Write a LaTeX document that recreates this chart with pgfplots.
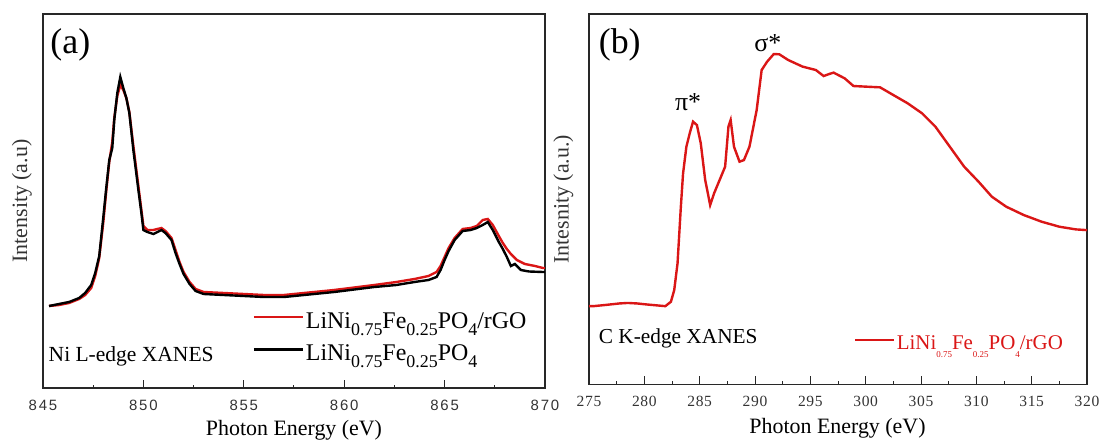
\documentclass[border=0pt]{standalone}
\usepackage{pgfplots}
\pgfplotsset{compat=1.18}
\usepackage{fontspec}
\setmainfont{Liberation Serif}
\newfontfamily\ticksans[LetterSpace=12]{Liberation Sans}
\newfontfamily\tickserif[LetterSpace=4]{Liberation Serif}
\definecolor{cred}{RGB}{218,22,22}
\definecolor{axgray}{RGB}{40,40,40}
\newcommand{\lsub}[1]{\raisebox{-3.6bp}{\fontsize{9}{9}\selectfont #1}}
\newcommand{\tsub}[1]{\raisebox{-4.2bp}{\fontsize{4.5}{5}\selectfont #1}}
\begin{document}
\begin{tikzpicture}
\useasboundingbox (0,0) rectangle (550bp,221.5bp);
\pgfplotsset{
  xanes/.style={
    scale only axis, anchor=south west,
    ytick=\empty, xtick pos=bottom, tick align=inside,
    minor x tick num=1,
    major tick length=4bp, minor tick length=1.6bp,
    axis line style={line width=0.6bp, axgray},
    every tick/.style={axgray, line width=0.5bp},
    /pgf/number format/assume math mode=true,
    xlabel style={font=\fontsize{11}{13}\selectfont, anchor=center},
    ylabel style={font=\fontsize{11}{13}\selectfont, anchor=center, text=black!80},
    clip=true,
  }
}
% ---------------- panel (a)
\begin{axis}[xanes,
  at={(21.5bp,27.5bp)}, width=251bp, height=187bp,
  xmin=845, xmax=870, ymin=0, ymax=374,
  xtick={845,850,...,870},
  xticklabel style={font=\ticksans\fontsize{7.5}{8}\selectfont, anchor=center, yshift=-8.5bp, text=black!80},
  xlabel={Photon Energy (eV)},
  xlabel style={at={(axis description cs:0.5,-0.112)}},
  ylabel={Intensity (a.u)},
  ylabel style={at={(axis description cs:-0.042,0.5)}},
  legend style={draw=none, fill=none, inner sep=0pt, at={(axis description cs:0.417,0.130)}, anchor=west,
    font=\fontsize{12}{12}\selectfont, row sep=2.5bp,
    nodes={inner sep=0.9bp, text height=8.5bp, text depth=3.5bp}},
  legend cell align=left,
  legend image code/.code={\draw[#1, line width=1.2bp] (0bp,3bp) -- (24.5bp,3bp);},
]
\addplot[cred, line width=1.2bp] coordinates {
(845.3,82)(845.8,83)(846.3,85)(846.8,89)(847.1,93)(847.4,100)(847.6,112)(847.8,130)
(848.0,165)(848.15,197)(848.3,226)(848.45,246)(848.55,270)(848.7,292)(848.85,303)
(849.0,298)(849.15,290)(849.3,276)(849.5,242)(849.75,202)(849.9,178)(850.0,162)
(850.2,158)(850.5,158)(850.9,160)(851.1,157)(851.4,150)(851.6,138)(851.8,126)
(852.0,116)(852.3,106)(852.6,99)(853.0,96)(854.0,95)(855.0,94)(856.0,93)(857.0,93)
(857.5,94)(858.5,96)(859.5,98)(860.3,100)(861.5,103)(862.6,106)(863.5,109)(864.2,112)
(864.6,116)(864.8,122)(865.0,131)(865.2,140)(865.5,150)(865.9,159)(866.3,160)(866.6,162)
(866.9,168)(867.15,169)(867.4,163)(867.7,152)(867.9,145)(868.1,139)(868.3,134)(868.6,128)
(869.0,124)(869.5,122)(869.9,120)(870,120)
};
\addlegendentry{LiNi\lsub{0.75}Fe\lsub{0.25}PO\lsub{4}/rGO}
\addplot[black, line width=1.2bp] coordinates {
(845.3,82)(845.8,84)(846.3,86)(846.8,90)(847.1,95)(847.4,103)(847.6,115)(847.8,132)
(848.0,170)(848.15,200)(848.3,228)(848.45,240)(848.55,268)(848.7,295)(848.85,311)
(849.0,300)(849.15,290)(849.3,275)(849.5,238)(849.75,198)(849.9,175)(850.0,158)
(850.2,156)(850.5,154)(850.9,158)(851.1,155)(851.4,148)(851.6,135)(851.8,124)
(852.0,114)(852.3,104)(852.6,97)(853.0,94)(854.0,93)(855.0,92)(856.0,91)(857.0,91)
(857.5,92)(858.5,94)(859.5,96)(860.3,98)(861.5,101)(862.6,103)(863.5,106)(864.2,108)
(864.6,111)(864.8,118)(865.0,128)(865.2,137)(865.5,148)(865.9,157)(866.3,158)(866.6,160)
(866.9,163)(867.15,166)(867.4,158)(867.7,146)(867.9,139)(868.1,131)(868.3,122)(868.5,124)
(868.8,118)(869.2,116.5)(869.9,116)(870,116)
};
\addlegendentry{LiNi\lsub{0.75}Fe\lsub{0.25}PO\lsub{4}}
\node[anchor=west, inner sep=0pt, font=\fontsize{18}{18}\selectfont] at (rel axis cs:0.014,0.917) {(a)};
\node[anchor=west, inner sep=0pt, font=\fontsize{10.8}{12}\selectfont] at (rel axis cs:0.0106,0.084) {Ni L-edge XANES};
\end{axis}
% ---------------- panel (b)
\begin{axis}[xanes,
  at={(294.5bp,29.25bp)}, width=249bp, height=185.25bp,
  xmin=275, xmax=320, ymin=0, ymax=370.3,
  xtick={275,280,...,320},
  xticklabel style={font=\tickserif\fontsize{7.8}{8}\selectfont, anchor=center, yshift=-8.3bp, text=black!80},
  xlabel={Photon Energy (eV)},
  xlabel style={at={(axis description cs:0.499,-0.117)}},
  ylabel={Intesnity (a.u.)},
  ylabel style={at={(axis description cs:-0.0514,0.5)}},
  legend style={draw=none, fill=none, inner sep=0pt, at={(axis description cs:0.531,0.105)}, anchor=west,
    font=\fontsize{10.5}{11}\selectfont, text=cred,
    nodes={inner sep=0.9bp, text height=8bp, text depth=4bp}},
  legend image code/.code={\draw[#1, line width=1.2bp] (0bp,2.8bp) -- (19.4bp,2.8bp);},
]
\addplot[cred, line width=1.2bp] coordinates {
(275.0,78.3)(275.4,78.3)(276.5,79.5)(277.75,81)(278.5,81.5)(279.35,81)(280.2,80)(280.9,79.3)(281.9,78.3)
(282.4,82.7)(282.7,94.3)(283.0,121)(283.3,177.7)(283.5,211)(283.8,237.7)(284.1,251)
(284.4,262.7)(284.75,259.3)(285.1,241)(285.5,204.3)(285.95,179.3)(286.3,191)(286.8,204.3)
(287.3,217.7)(287.6,257.7)(287.8,264.3)(288.1,237.7)(288.6,222.7)(289.0,224.3)(289.5,237.7)
(290.15,274.3)(290.6,314.3)(291.1,322.7)(291.7,330.3)(292.2,330)(293.0,324.3)(294.3,317.7)
(295.5,314.3)(296.2,308.3)(296.7,310.3)(297.1,311.7)(298.1,306)(298.9,298.3)(300.0,297.7)
(301.3,297)(302.5,289.3)(303.8,281)(305.1,271)(306.3,257.7)(307.6,237.7)(308.9,217.7)
(310.2,202.7)(311.4,187.7)(312.7,177.7)(314.3,169.3)(315.9,162.7)(317.5,157.7)(319.0,155)(320.0,154.3)
};
\addlegendentry{LiNi\tsub{0.75}Fe\tsub{0.25}PO\tsub{4}/rGO}
\node[anchor=west, inner sep=0pt, font=\fontsize{18}{18}\selectfont] at (rel axis cs:0.019,0.916) {(b)};
\node[anchor=center, inner sep=0pt, font=\fontsize{13}{13}\selectfont] at (rel axis cs:0.199,0.761) {π*};
\node[anchor=center, inner sep=0pt, font=\fontsize{13}{13}\selectfont] at (rel axis cs:0.359,0.921) {σ*};
\node[anchor=west, inner sep=0pt, font=\fontsize{10.7}{12}\selectfont] at (rel axis cs:0.019,0.125) {C K-edge XANES};
\end{axis}
\end{tikzpicture}
\end{document}
